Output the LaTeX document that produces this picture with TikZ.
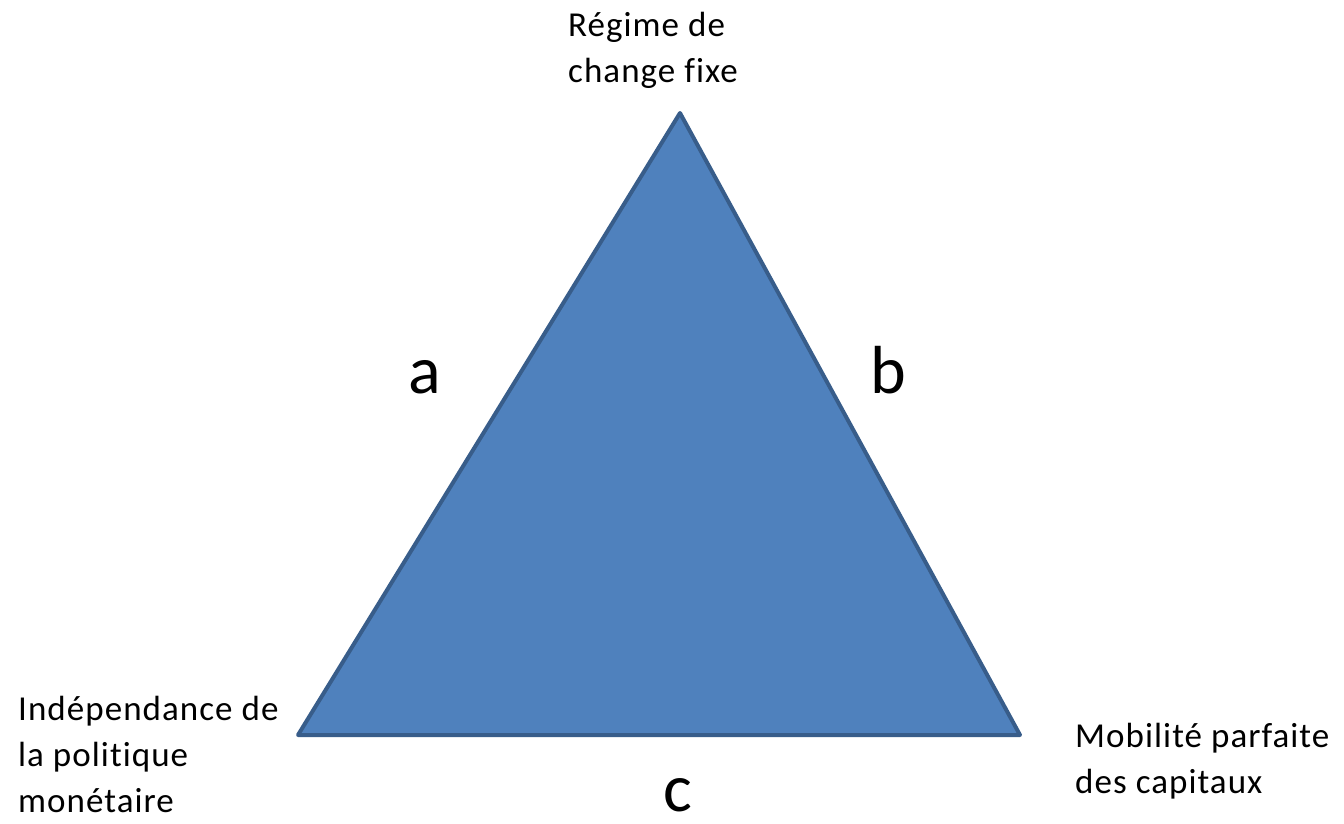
\documentclass[tikz,border=0pt]{standalone}
\usepackage{fontspec}
\setmainfont[Ligatures=NoCommon]{Carlito}
\definecolor{trifill}{HTML}{4F81BD}
\definecolor{triline}{HTML}{385D8A}
\begin{document}
\begin{tikzpicture}[x=1pt,y=-1pt,
  lbl/.style={inner sep=0pt,anchor=base west,align=left,font=\fontsize{35}{46}\selectfont\addfontfeature{LetterSpace=3}},
  side/.style={inner sep=0pt,anchor=base,text depth=0pt,font=\fontsize{68}{80}\selectfont},
  tri/.style={fill=trifill,draw=triline,line width=4pt,line join=round}]
\useasboundingbox (0,0) rectangle (1344,823);
\coordinate (top) at (680,113);
\coordinate (bl) at (298,735);
\coordinate (br) at (1020,735);
\draw[tri] (top) -- (bl) -- (br) -- cycle;
\node[lbl] (ttop) at (568,82) {Régime de\\change fixe};
\node[lbl] (tleft) at (18,812) {Indépendance de\\la politique\\monétaire};
\node[lbl] (tright) at (1075,793) {Mobilité parfaite\\des capitaux};
\node[side] (sa) at (425,393) {a};
\node[side] (sb) at (888,393) {b};
\node[side] (sc) at (678,811) {c};
\end{tikzpicture}
\end{document}
